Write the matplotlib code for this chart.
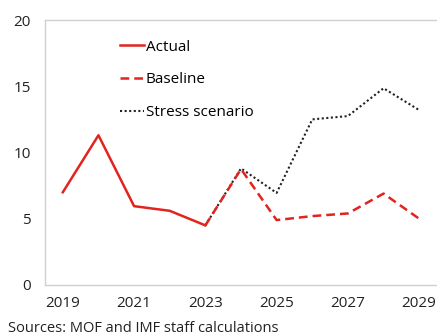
import matplotlib.pyplot as plt

plt.rcParams['font.family'] = ['Open Sans', 'DejaVu Sans']

# data
years_actual = [2019, 2020, 2021, 2022, 2023]
actual = [7.0, 11.3, 5.95, 5.6, 4.5]

years_proj = [2023, 2024, 2025, 2026, 2027, 2028, 2029]
baseline = [4.5, 8.75, 4.9, 5.2, 5.4, 6.9, 5.0]
stress = [4.5, 8.8, 6.95, 12.5, 12.75, 14.85, 13.2]

xticks = [2019, 2021, 2023, 2025, 2027, 2029]
yticks = [0, 5, 10, 15, 20]

red = '#e3231d'
grey = '#d0d0d0'

fig = plt.figure(figsize=(4.37, 3.36), dpi=100)
ax = fig.add_axes([45 / 437, 51 / 336, 392 / 437, 265 / 336])

ax.plot(years_proj, stress, color='#222222', linestyle=(0, (1, 1.2)), linewidth=1.5, label='Stress scenario')
ax.plot(years_proj, baseline, color=red, linestyle=(0, (3.5, 2)), linewidth=1.8, label='Baseline')
ax.plot(years_actual, actual, color=red, linewidth=1.8, label='Actual')

ax.set_xlim(2018.5, 2029.5)
ax.set_ylim(0, 20)
ax.set_xticks(xticks)
ax.set_yticks(yticks)
ax.tick_params(length=0, labelsize=11, colors='#222222')
ax.tick_params(axis='x', pad=8)
ax.tick_params(axis='y', pad=10)

for side in ['left', 'top', 'bottom']:
    ax.spines[side].set_color(grey)
    ax.spines[side].set_linewidth(1.0)
ax.spines['right'].set_visible(False)

handles, labels = ax.get_legend_handles_labels()
order = [2, 1, 0]
ax.legend([handles[i] for i in order], [labels[i] for i in order],
          loc='upper left', bbox_to_anchor=(0.156, 0.977), frameon=False,
          fontsize=11, handlelength=1.6, handletextpad=0.1, labelspacing=1.15)

fig.text(8 / 437, 4 / 336, 'Sources: MOF and IMF staff calculations', fontsize=10.5, color='#222222')

fig.savefig('out.png', dpi=100)
